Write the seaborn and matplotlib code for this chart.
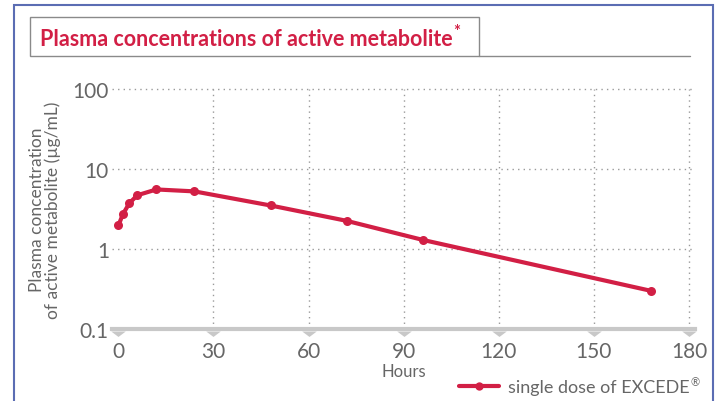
import numpy as np
import pandas as pd
import matplotlib
matplotlib.use("Agg")
import matplotlib.pyplot as plt
import matplotlib.transforms as mtransforms
from matplotlib.patches import Rectangle
from matplotlib.lines import Line2D
import seaborn as sns

# data
hours = [0, 1.5, 3.5, 6, 12, 24, 48, 72, 96, 168]
conc = [1.97, 2.75, 3.75, 4.7, 5.55, 5.25, 3.5, 2.25, 1.3, 0.3]
xticks = [0, 30, 60, 90, 120, 150, 180]
yticks = [0.1, 1, 10, 100]
ytick_labels = ["0.1", "1", "10", "100"]
series_name = "single dose of EXCEDE"

RED = "#d21f45"
GREY_TXT = "#666666"
BAR = "#c8c8c8"

sns.set_style("white")
plt.rcParams['font.family'] = ['Lato', 'DejaVu Sans']

df = pd.DataFrame({"Hours": hours, "conc": conc, "series": series_name})

W, H = 720, 402
fig = plt.figure(figsize=(W / 100, H / 100), dpi=100)

def fx(px):
    return px / W

def fy(py):
    return 1 - py / H

ax = fig.add_axes([fx(111.7), fy(330), fx(695 - 111.7), (330 - 90) / H])

sns.lineplot(data=df, x="Hours", y="conc", color=RED, lw=3, marker="o",
             markersize=6.5, markeredgewidth=0, ax=ax, legend=False)

ax.set_yscale("log")
ax.set_ylim(0.1, 100)
ax.set_xlim(-2.1, 181.9)
ax.set_yticks(yticks)
ax.set_yticklabels(ytick_labels)
ax.minorticks_off()
ax.set_xticks(xticks)
ax.set_xticklabels([str(t) for t in xticks])
ax.tick_params(axis="both", length=0, labelsize=15, labelcolor=GREY_TXT)
ax.tick_params(axis="x", pad=9)
ax.tick_params(axis="y", pad=2)

# dotted grid, no line at 0 / 0.1
for t in xticks[1:]:
    ax.axvline(t, color="#9a9a9a", lw=1, ls=(0, (1, 3)), zorder=0)
for t in yticks[1:]:
    ax.axhline(t, color="#9a9a9a", lw=1, ls=(0, (1, 3)), zorder=0, clip_on=False)

for s in ["top", "right", "left"]:
    ax.spines[s].set_visible(False)
ax.spines["bottom"].set_color(BAR)
ax.spines["bottom"].set_linewidth(3)

# wide triangle tick markers under the bar
tri = [(-1, 0), (1, 0), (0, -0.75), (-1, 0)]
off = mtransforms.ScaledTranslation(0, -1.5 / 72, fig.dpi_scale_trans)
ax.scatter(xticks, [0] * len(xticks), marker=tri, s=110, color=BAR, lw=0,
           transform=ax.get_xaxis_transform() + off, clip_on=False, zorder=3)

ax.set_xlabel("Hours", fontsize=12, color=GREY_TXT, labelpad=1)
ax.set_ylabel("Plasma concentration\nof active metabolite (\u00b5g/mL)", fontsize=12.5,
              color=GREY_TXT, labelpad=8, linespacing=1.0)

# legend
h = Line2D([], [], color=RED, lw=3, marker="o", markersize=6, markeredgewidth=0)
leg = fig.legend([h], [series_name], loc="center right", bbox_to_anchor=(fx(706), fy(388)),
                 frameon=False, fontsize=13, handlelength=2.2, handletextpad=0.5,
                 labelcolor=GREY_TXT)

# frame and title box
fig.add_artist(Rectangle((fx(13.5), fy(420)), fx(713 - 13.5), (420 - 6) / H,
                         transform=fig.transFigure, fill=False,
                         edgecolor="#5b6db3", lw=1.5))
fig.add_artist(Rectangle((fx(30), fy(57)), fx(479 - 30), (57 - 18) / H,
                         transform=fig.transFigure, fill=False,
                         edgecolor="#8a8a8a", lw=1))
fig.add_artist(Line2D([fx(479), fx(690)], [fy(57), fy(57)], transform=fig.transFigure,
                      color="#8a8a8a", lw=1))
title = fig.text(fx(40), fy(39), "Plasma concentrations of active metabolite",
                 fontsize=15.5, fontweight="bold", color=RED, va="center", ha="left")

# superscript signs placed right after their texts
fig.canvas.draw()
r = fig.canvas.get_renderer()
tb = title.get_window_extent(r)
fig.text(tb.x1 + 1, tb.y1 - 4, "*", fontsize=12, fontweight="bold", color=RED,
         va="center", ha="left", transform=None)
lb = leg.get_texts()[0].get_window_extent(r)
fig.text(lb.x1 + 1, lb.y1 - 3, "\u00ae", fontsize=8, color=GREY_TXT,
         va="center", ha="left", transform=None)

fig.savefig("out.png", dpi=100)
